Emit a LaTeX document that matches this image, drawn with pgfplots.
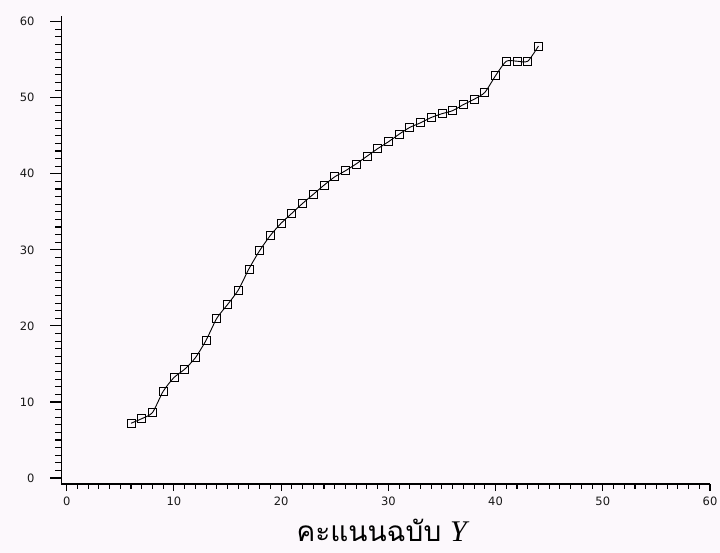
\documentclass[border=0pt]{standalone}
\usepackage{pgfplots}
\pgfplotsset{compat=1.18}
\usepackage{xcolor}
\usepackage{fontspec}
\setmainfont{Liberation Serif}
\newfontfamily\thaifont[Script=Thai]{Loma}
\newfontfamily\tickfont{DejaVu Sans}
\definecolor{bgc}{RGB}{252,248,252}
\pagecolor{bgc}
\begin{document}
\begin{tikzpicture}
\useasboundingbox (-61.3pt,-68.9pt) rectangle (658.7pt,484.1pt);
\begin{axis}[
  at={(0pt,0pt)}, anchor=south west,
  scale only axis, width=648.7pt, height=468.5pt,
  xmin=-0.5, xmax=60, ymin=-0.8, ymax=60.8,
  axis lines=left, axis line style={-, line width=1.3pt},
  xtick={0,10,...,60}, ytick={0,10,...,60},
  minor x tick num=9, minor y tick num=9,
  tick align=outside,
  tick style={black, line width=1.1pt},
  major x tick style={/pgfplots/major tick length=7pt},
  minor x tick style={/pgfplots/minor tick length=4.5pt},
  major y tick style={/pgfplots/major tick length=11pt},
  minor y tick style={/pgfplots/minor tick length=6pt},
  /pgf/number format/assume math mode=true,
  ticklabel style={font=\tickfont\fontsize{11.5}{13}\selectfont, text=black!90},
  yticklabel style={xshift=-19pt},
  xticklabel style={yshift=-5pt},
  xlabel={{\thaifont\fontsize{28}{32}\selectfont คะแนนฉบับ}\hspace{9pt}{\fontsize{30}{32}\selectfont\textit{Y}}},
  xlabel style={at={(axis description cs:0.496,0)}, anchor=base, yshift=-57pt, inner sep=0pt},
]
\addplot[black, line width=0.9pt, smooth, tension=0.4,
  mark=square, mark size=4pt, mark options={line width=0.7pt, solid}]
coordinates {
(6,7.2) (7,7.8) (8,8.6) (9,11.4) (10,13.2) (11,14.3) (12,15.8) (13,18.1)
(14,21.0) (15,22.8) (16,24.7) (17,27.5) (18,29.9) (19,31.9) (20,33.5)
(21,34.8) (22,36.1) (23,37.3) (24,38.5) (25,39.6) (26,40.4) (27,41.3)
(28,42.3) (29,43.3) (30,44.2) (31,45.2) (32,46.1) (33,46.7) (34,47.4)
(35,47.9) (36,48.3) (37,49.1) (38,49.8) (39,50.7) (40,52.9) (41,54.8)
(42,54.8) (43,54.8) (44,56.8)
};
\end{axis}
\end{tikzpicture}
\end{document}
